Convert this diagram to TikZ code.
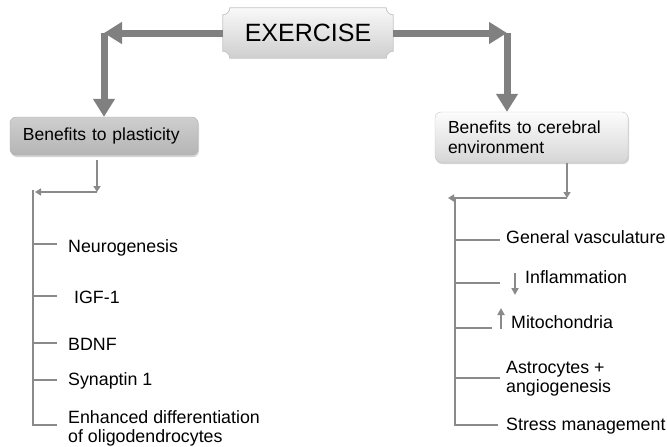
\documentclass[tikz,border=0pt]{standalone}
\usepackage{fontspec}
\setmainfont{Liberation Sans}
\usetikzlibrary{arrows.meta,shadows,backgrounds}
\definecolor{arrowgray}{RGB}{128,128,128}
\definecolor{linegray}{RGB}{138,138,138}
\begin{document}
\begin{tikzpicture}[x=1pt,y=-1pt,
  bigarrow/.style={draw=arrowgray,line width=7pt,-{Triangle[length=18pt,width=21pt]}},
  thinline/.style={draw=linegray,line width=2pt},
  thinarrow/.style={thinline,-{Triangle[length=6pt,width=7pt]}},
  tinyarrow/.style={draw=linegray,line width=2pt,-{Triangle[length=7pt,width=7pt]}},
  item/.style={anchor=base west,inner sep=0pt,font=\fontsize{17.8}{19}\selectfont},
  itemtwo/.style={anchor=north west,inner sep=0pt,align=left,font=\fontsize{17.8}{19}\selectfont},
  benefit/.style={rounded corners=6pt,align=left,inner xsep=13pt,inner ysep=0pt,
    font=\fontsize{17.5}{20}\selectfont,
    drop shadow={opacity=0.35,shadow xshift=1pt,shadow yshift=-2pt}}
]
\useasboundingbox (0,0) rectangle (667,447);

% central plaque
\node[minimum width=170pt,minimum height=50pt,inner sep=0pt,
      font=\fontsize{25}{30}\selectfont] (ex) at (308,33) {EXERCISE};
\begin{scope}[on background layer]
\fill[gray!45,opacity=0.6,xshift=1pt,yshift=-2pt]
  ([xshift=7pt]ex.north west) -- ([xshift=-7pt]ex.north east)
  arc[start angle=180,end angle=270,radius=7pt] -- ([yshift=7pt]ex.south east)
  arc[start angle=90,end angle=180,radius=7pt] -- ([xshift=7pt]ex.south west)
  arc[start angle=0,end angle=90,radius=7pt] -- ([yshift=-7pt]ex.north west)
  arc[start angle=270,end angle=360,radius=7pt] -- cycle;
\shade[top color=gray!5,bottom color=gray!38,draw=gray!45,line width=0.8pt]
  ([xshift=7pt]ex.north west) -- ([xshift=-7pt]ex.north east)
  arc[start angle=180,end angle=270,radius=7pt] -- ([yshift=7pt]ex.south east)
  arc[start angle=90,end angle=180,radius=7pt] -- ([xshift=7pt]ex.south west)
  arc[start angle=0,end angle=90,radius=7pt] -- ([yshift=-7pt]ex.north west)
  arc[start angle=270,end angle=360,radius=7pt] -- cycle;
\end{scope}

% benefit boxes
\node[benefit,draw=gray!65,top color=gray!38,middle color=gray!24,bottom color=gray!58,
      minimum width=188pt,minimum height=38pt,text width=162pt] (plast) at (104,136)
      {Benefits to plasticity};
\node[benefit,draw=gray!45,top color=gray!2,bottom color=gray!32,
      minimum width=193pt,minimum height=50pt,text width=167pt] (cer) at (531.5,137)
      {Benefits to cerebral\\environment};

% thick arrows
\coordinate (lc) at (104,33);
\coordinate (rc) at (507,33);
\draw[bigarrow] (ex.west) -- (lc);
\draw[bigarrow] (lc) -- (plast.north);
\draw[bigarrow] (ex.east) -- (rc);
\draw[bigarrow] (rc) -- (rc |- cer.north);

% left branch
\coordinate (lj) at (97,192);
\coordinate (lt) at (35,192);
\coordinate (ls) at (33,190);
\coordinate (lb) at (33,425);
\draw[thinarrow,shorten <=5pt] (plast.south -| lj) -- (lj);
\draw[thinarrow] (lj) -- (lt);

\node[item] (neuro) at (68,252) {Neurogenesis};
\node[item] (igf) at (74,303) {IGF-1};
\node[item] (bdnf) at (68,350) {BDNF};
\node[item] (syn) at (68,385) {Synaptin 1};
\node[itemtwo] (enh) at (68,410.5) {Enhanced differentiation\\of oligodendrocytes};

\draw[thinline,line join=miter] (ls) -- (lb) -- (57,425);
\foreach \yy in {244,296,343,380} \draw[thinline] (33,\yy) -- (57,\yy);

% right branch
\coordinate (rj) at (567,198);
\coordinate (rt) at (448,198);
\coordinate (rs) at (455,197);
\coordinate (rb) at (455,425);
\draw[thinarrow,shorten <=1pt] (cer.south -| rj) -- (rj);
\draw[thinarrow] (rj) -- (rt);

\node[item] (gen) at (506,243) {General vasculature};
\node[item] (infl) at (525,283) {Inflammation};
\node[item] (mito) at (511,328) {Mitochondria};
\node[itemtwo] (astro) at (506,361) {Astrocytes +\\angiogenesis};
\node[item] (stress) at (506,430) {Stress management};

\draw[thinline,line join=miter] (rs) -- (rb) -- (498,425);
\draw[thinline] (455,240) -- (500,240);
\draw[thinline] (455,283) -- (500,283);
\draw[thinline] (455,328) -- (492,328);
\draw[thinline] (455,378) -- (500,378);

\draw[tinyarrow] ([xshift=-10pt,yshift=10pt]infl.base west) -- ([xshift=-10pt,yshift=-12pt]infl.base west);
\draw[tinyarrow] ([xshift=-10pt,yshift=-1pt]mito.base west) -- ([xshift=-10pt,yshift=20pt]mito.base west);
\end{tikzpicture}
\end{document}
